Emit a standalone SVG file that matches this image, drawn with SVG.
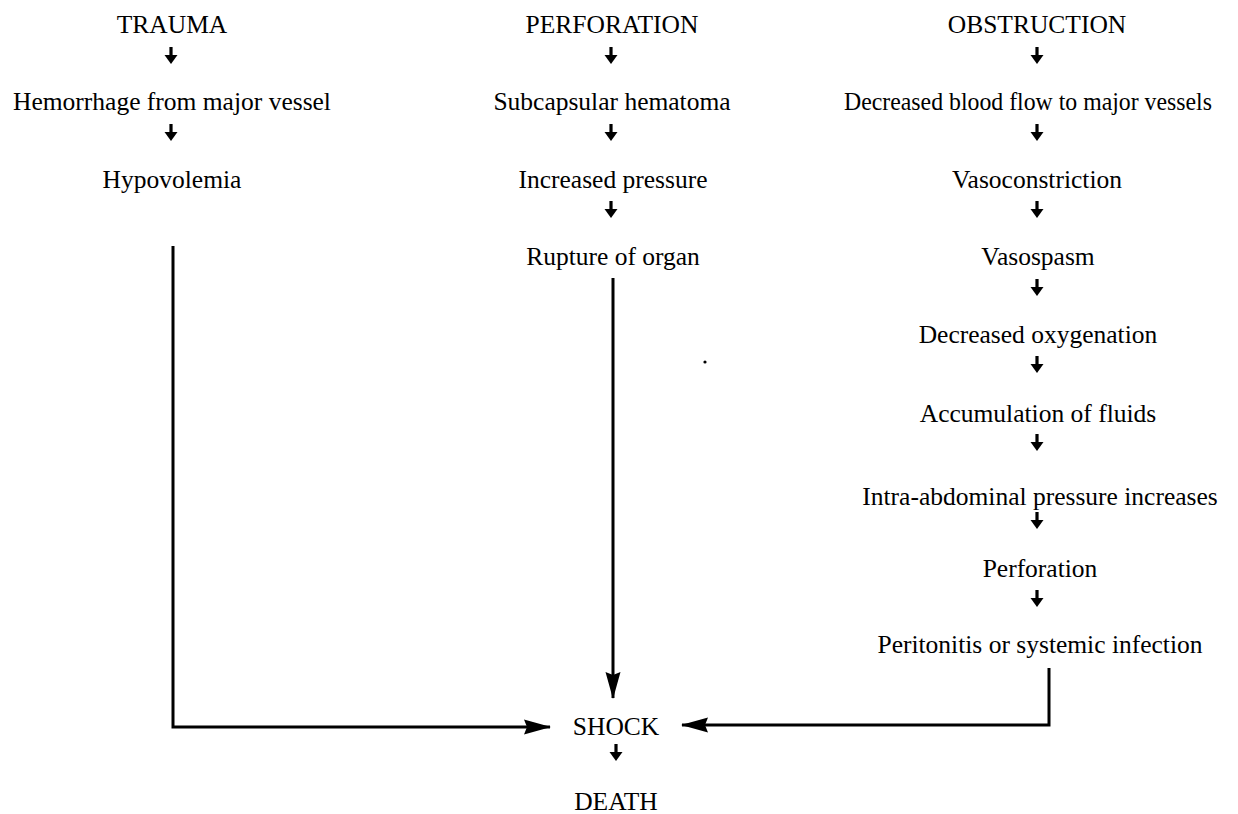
<svg xmlns="http://www.w3.org/2000/svg" xmlns:xlink="http://www.w3.org/1999/xlink" width="1238" height="814" viewBox="0 0 1238 814">
<style>
text{font-family:"Liberation Serif","Times New Roman",serif;font-size:25.5px;fill:#000;text-anchor:middle}
.ln{fill:none;stroke:#000;stroke-width:3}
</style>
<defs>
<marker id="ah" markerUnits="userSpaceOnUse" viewBox="0 0 27 16" refX="26" refY="8" markerWidth="27" markerHeight="16" orient="auto">
<path d="M0,0.5 L27,8 L0,15.5 L3,8 Z" fill="#000"/>
</marker>
<g id="sa">
<path d="M0,-1 V10" stroke="#000" stroke-width="3.2" fill="none"/>
<path d="M-6.5,7 L6.5,7 L0,16 Z" fill="#000"/>
</g>
</defs>
<rect width="1238" height="814" fill="#fff"/>
<g id="connectors">
<use xlink:href="#sa" x="171" y="48"/>
<use xlink:href="#sa" x="171" y="125"/>
<use xlink:href="#sa" x="611" y="48"/>
<use xlink:href="#sa" x="611" y="125"/>
<use xlink:href="#sa" x="611" y="202"/>
<use xlink:href="#sa" x="1037" y="48"/>
<use xlink:href="#sa" x="1037" y="125"/>
<use xlink:href="#sa" x="1037" y="202"/>
<use xlink:href="#sa" x="1037" y="280"/>
<use xlink:href="#sa" x="1037" y="357"/>
<use xlink:href="#sa" x="1037" y="435"/>
<use xlink:href="#sa" x="1037" y="513"/>
<use xlink:href="#sa" x="1037" y="591"/>
<use xlink:href="#sa" x="616" y="745"/>
<path class="ln" d="M173,246 V727 H550" marker-end="url(#ah)"/>
<path class="ln" d="M613,278 V698" marker-end="url(#ah)"/>
<path class="ln" d="M1049,668 V725 H682" marker-end="url(#ah)"/>
</g>
<circle cx="705" cy="362" r="1.6" fill="#000"/>
<g id="trauma"><text x="172" y="33">TRAUMA</text></g>
<g id="hemorrhage"><text x="172" y="110">Hemorrhage from major vessel</text></g>
<g id="hypovolemia"><text x="172" y="188">Hypovolemia</text></g>
<g id="perforation-top"><text x="612" y="33">PERFORATION</text></g>
<g id="subcapsular"><text x="612" y="110">Subcapsular hematoma</text></g>
<g id="increased-pressure"><text x="613" y="188">Increased pressure</text></g>
<g id="rupture"><text x="613" y="265">Rupture of organ</text></g>
<g id="obstruction"><text x="1037" y="33">OBSTRUCTION</text></g>
<g id="decreased-blood-flow"><text x="1028" y="110" textLength="368" lengthAdjust="spacingAndGlyphs">Decreased blood flow to major vessels</text></g>
<g id="vasoconstriction"><text x="1037" y="188">Vasoconstriction</text></g>
<g id="vasospasm"><text x="1038" y="265">Vasospasm</text></g>
<g id="decreased-oxygenation"><text x="1038" y="343">Decreased oxygenation</text></g>
<g id="accumulation"><text x="1038" y="422">Accumulation of fluids</text></g>
<g id="intra-abdominal"><text x="1040" y="505">Intra-abdominal pressure increases</text></g>
<g id="perforation"><text x="1040" y="577">Perforation</text></g>
<g id="peritonitis"><text x="1040" y="653">Peritonitis or systemic infection</text></g>
<g id="shock"><text x="616" y="735">SHOCK</text></g>
<g id="death"><text x="616" y="810">DEATH</text></g>
</svg>
